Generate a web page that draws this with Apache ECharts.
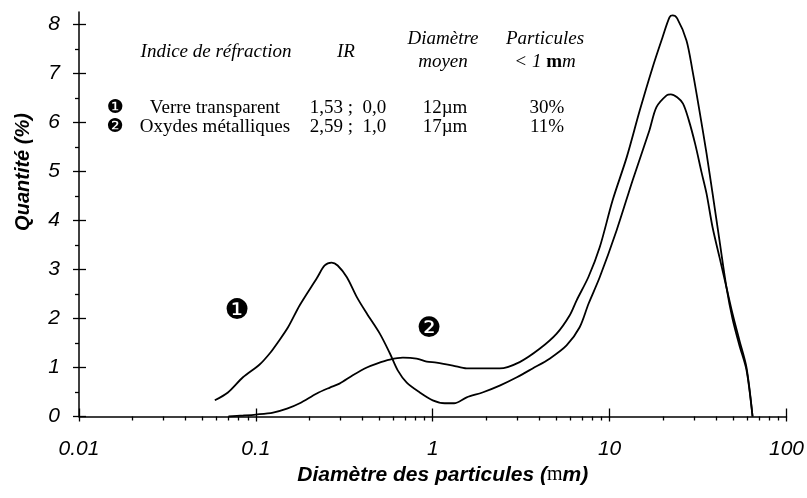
<!DOCTYPE html>
<html>
<head>
<meta charset="utf-8">
<script src="https://cdn.jsdelivr.net/npm/echarts@6/dist/echarts.min.js"></script>
<style>
  html, body { margin: 0; padding: 0; background: #fff; }
  #chart { width: 807px; height: 498px; }
</style>
</head>
<body>
<div id="chart"></div>
<script>
// Particle size distributions (diameter in µm, quantity in %)
const verreDiam = [0.0586, 0.0695, 0.0845, 0.105, 0.12, 0.133, 0.152, 0.177, 0.221, 0.245, 0.268, 0.29, 0.327, 0.373, 0.424, 0.502, 0.572, 0.634, 0.713, 0.845, 1.0, 1.17, 1.32, 1.556, 1.91, 2.39, 2.99, 3.67, 4.58, 5.71, 6.77, 7.6, 8.79, 10.96, 13.5, 16.8, 18.4, 21.0, 22.2, 24.1, 26.0, 28.0, 30.5, 33.0, 35.3, 38.2, 41.8, 45.8, 49.5, 54.2, 59.4, 64.3];
const verreQty  = [0.33, 0.49, 0.8, 1.06, 1.29, 1.51, 1.82, 2.27, 2.82, 3.08, 3.14, 3.08, 2.84, 2.43, 2.1, 1.69, 1.29, 0.94, 0.69, 0.49, 0.33, 0.27, 0.27, 0.39, 0.49, 0.63, 0.8, 0.98, 1.18, 1.45, 1.82, 2.3, 2.84, 3.8, 4.82, 5.84, 6.31, 6.55, 6.57, 6.51, 6.38, 6.05, 5.55, 5.0, 4.55, 3.86, 3.25, 2.63, 2.1, 1.55, 1.0, 0];

const oxydesDiam = [0.07, 0.085, 0.1, 0.125, 0.15, 0.177, 0.221, 0.262, 0.297, 0.353, 0.424, 0.483, 0.572, 0.678, 0.81, 0.925, 1.05, 1.3, 1.556, 2.1, 2.39, 3.1, 4.02, 5.02, 5.94, 6.51, 7.6, 8.79, 10.4, 12.5, 14.8, 17.5, 19.9, 21.8, 22.7, 24.1, 27.2, 29.4, 32.2, 35.3, 38.2, 41.8, 45.8, 49.5, 54.2, 59.4, 64.3];
const oxydesQty  = [0, 0.02, 0.04, 0.08, 0.16, 0.27, 0.47, 0.59, 0.67, 0.84, 1.0, 1.08, 1.16, 1.2, 1.18, 1.12, 1.1, 1.04, 0.98, 0.98, 0.98, 1.11, 1.38, 1.69, 2.06, 2.37, 2.85, 3.45, 4.41, 5.29, 6.24, 7.12, 7.73, 8.14, 8.18, 8.12, 7.67, 7.06, 6.24, 5.37, 4.55, 3.59, 2.63, 2.0, 1.45, 0.95, 0];

// Axis ticks and labels
const xTickValues = [0.01, 0.1, 1, 10, 100];
const xTickLabels = ['0.01', '0.1', '1', '10', '100'];
const yTickValues = [0, 1, 2, 3, 4, 5, 6, 7, 8];
const yMinorValues = [0.5, 1.5, 2.5, 3.5, 4.5, 5.5, 6.5, 7.5];
const xMinorMultipliers = [2, 3, 4, 5, 6, 7, 8, 9];

// Summary table
const tableHeaders = [
  ['Indice de réfraction', 216, 52],
  ['IR', 346, 52],
  ['Diamètre', 443, 39],
  ['moyen', 443, 62],
  ['Particules', 545, 39]
];
const tableRows = [
  ['❶', 'Verre transparent', '1,53 ;  0,0', '12µm', '30%'],
  ['❷', 'Oxydes métalliques', '2,59 ;  1,0', '17µm', '11%']
];

const toPairs = (xs, ys) => xs.map((x, i) => [x, ys[i]]);
const log10 = v => Math.log(v) / Math.LN10;
const xMinorLog = [];
[-2, -1, 0, 1].forEach(p => xMinorMultipliers.forEach(m => xMinorLog.push(log10(m * Math.pow(10, p)))));
const xMajorLog = xTickValues.map(log10);

const sans = 'Liberation Sans, Arial, sans-serif';
const serif = 'Liberation Serif, Times New Roman, serif';
const black = '#000';

const chart = echarts.init(document.getElementById('chart'), null, { renderer: 'canvas' });

// helper axes that only draw tick marks; a negative offset pulls the axis
// into the plot so its outward ticks cross the main axis line
const tickAxisX = (values, length, offset) => ({
  type: 'value', min: -2, max: 2, position: 'bottom', offset: offset,
  axisLine: { show: false, onZero: false },
  axisLabel: { show: false },
  splitLine: { show: false },
  axisTick: { show: true, inside: false, length: length, customValues: values, lineStyle: { color: black, width: 1.3 } }
});
const tickAxisY = (values, length, offset) => ({
  type: 'value', min: 0, max: 8.25, position: 'left', offset: offset,
  axisLine: { show: false, onZero: false },
  axisLabel: { show: false },
  splitLine: { show: false },
  axisTick: { show: true, inside: false, length: length, customValues: values, lineStyle: { color: black, width: 1.3 } }
});

const rowY = [108, 127];
const colX = [115, 215, 348, 445, 547];
const graphics = [];
tableHeaders.forEach(([t, x, y]) => graphics.push({
  type: 'text', x: x, y: y,
  style: { text: t, align: 'center', verticalAlign: 'middle', font: 'italic 19px ' + serif, fill: black }
}));
graphics.push({
  type: 'text', x: 545, y: 62,
  style: {
    text: '< 1 {b|m}m', align: 'center', verticalAlign: 'middle', font: 'italic 19px ' + serif, fill: black,
    rich: { b: { fontFamily: serif, fontWeight: 'bold', fontStyle: 'normal', fontSize: 19, fill: black } }
  }
});
tableRows.forEach((row, r) => {
  row.forEach((cell, c) => graphics.push({
    type: 'text', x: colX[c], y: rowY[r],
    style: {
      text: cell, align: 'center', verticalAlign: 'middle',
      font: c === 0 ? '19px DejaVu Sans' : '19px ' + serif, fill: black
    }
  }));
});
// curve markers
graphics.push({ type: 'text', x: 237, y: 312, style: { text: '❶', align: 'center', verticalAlign: 'middle', font: '28px DejaVu Sans', fill: black } });
graphics.push({ type: 'text', x: 429, y: 330, style: { text: '❷', align: 'center', verticalAlign: 'middle', font: '28px DejaVu Sans', fill: black } });
// y axis title
graphics.push({
  type: 'text', x: 23, y: 172, rotation: Math.PI / 2,
  style: { text: 'Quantité (%)', align: 'center', verticalAlign: 'middle', font: 'italic bold 20px ' + sans, fill: black }
});

const option = {
  animation: false,
  backgroundColor: '#fff',
  grid: { left: 79, right: 20, top: 12, bottom: 81.5, containLabel: false },
  xAxis: [
    {
      type: 'log', logBase: 10, min: 0.01, max: 100, position: 'bottom',
      axisLine: { show: true, onZero: false, lineStyle: { color: black, width: 1.5 } },
      axisTick: { show: false },
      axisLabel: {
        margin: 22, color: black, fontFamily: sans, fontStyle: 'italic', fontSize: 21,
        formatter: v => {
          const i = xTickValues.findIndex(t => Math.abs(log10(t) - log10(v)) < 1e-6);
          return i >= 0 ? xTickLabels[i] : '';
        }
      },
      splitLine: { show: false },
      name: 'Diamètre des particules ({mu|m}m)',
      nameLocation: 'middle', nameGap: 44,
      nameTextStyle: {
        color: black, fontFamily: sans, fontStyle: 'italic', fontWeight: 'bold', fontSize: 21,
        padding: [0, 0, 0, 20],
        rich: { mu: { fontFamily: serif, fontStyle: 'normal', fontWeight: 'normal', fontSize: 20, color: black } }
      }
    },
    tickAxisX(xMajorLog, 13, -8),
    tickAxisX(xMinorLog, 4, 0)
  ],
  yAxis: [
    {
      type: 'value', min: 0, max: 8.25, interval: 1, position: 'left',
      axisLine: { show: true, onZero: false, lineStyle: { color: black, width: 1.5 } },
      axisTick: { show: false },
      axisLabel: {
        margin: 19, color: black, fontFamily: sans, fontStyle: 'italic', fontSize: 21,
        customValues: yTickValues,
        formatter: v => (Number.isInteger(v) ? String(v) : '')
      },
      splitLine: { show: false }
    },
    tickAxisY(yTickValues, 13, -7),
    tickAxisY(yMinorValues, 4, 0)
  ],
  graphic: graphics,
  series: [
    {
      name: 'Verre transparent', type: 'line', xAxisIndex: 0, yAxisIndex: 0,
      data: toPairs(verreDiam, verreQty), showSymbol: false, smooth: 0.3,
      lineStyle: { color: black, width: 1.8 }
    },
    {
      name: 'Oxydes métalliques', type: 'line', xAxisIndex: 0, yAxisIndex: 0,
      data: toPairs(oxydesDiam, oxydesQty), showSymbol: false, smooth: 0.3,
      lineStyle: { color: black, width: 1.8 }
    }
  ]
};
chart.setOption(option);
</script>
</body>
</html>
